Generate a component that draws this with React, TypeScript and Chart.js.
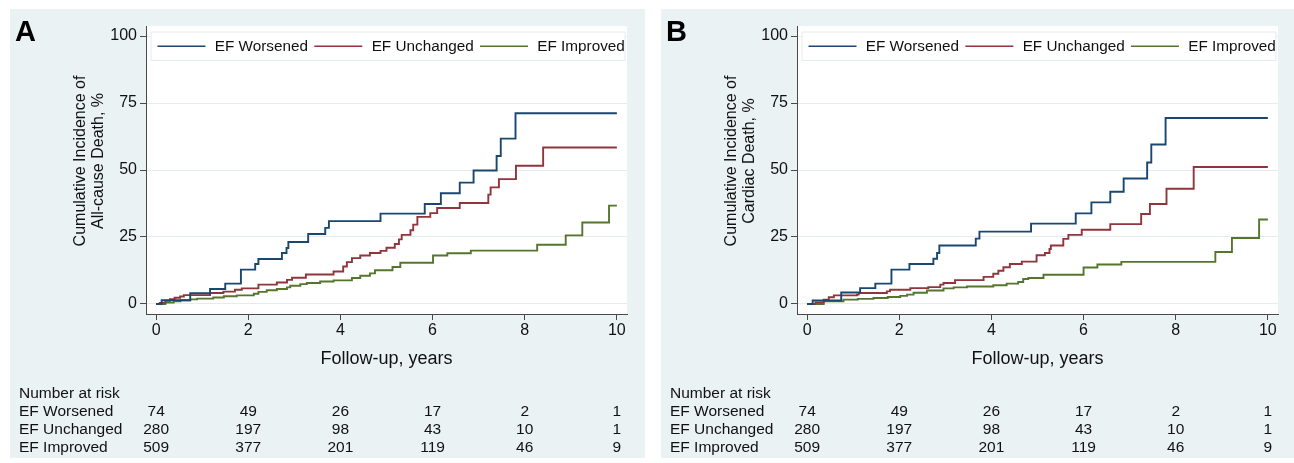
import React, { useEffect, useRef } from "react";
import { Chart, registerables } from "chart.js";

Chart.register(...registerables);

// ---------- data ----------
const seriesNames = ["EF Worsened", "EF Unchanged", "EF Improved"];
const xTicks = [0, 2, 4, 6, 8, 10];
const yTicks = [0, 25, 50, 75, 100];

const riskWorsened = [74, 49, 26, 17, 2, 1];
const riskUnchanged = [280, 197, 98, 43, 10, 1];
const riskImproved = [509, 377, 201, 119, 46, 9];

// Panel A: all-cause death
const aWorsenedYears = [0, 0.12, 0.74, 1.17, 1.5, 1.84, 2.15, 2.22, 2.73, 2.83, 2.87, 3.3, 3.67, 3.75, 4.87, 5.83, 6.18, 6.59, 6.89, 7.39, 7.48, 7.8, 10.0];
const aWorsenedPct = [0, 1.4, 4.0, 5.6, 7.6, 12.8, 14.9, 16.8, 19.0, 20.9, 23.1, 26.1, 28.4, 30.9, 33.7, 37.3, 41.3, 45.3, 49.8, 55.2, 61.7, 71.2, 71.2];

const aUnchangedYears = [0, 0.08, 0.2, 0.3, 0.4, 0.52, 0.6, 1.17, 1.46, 1.71, 1.86, 2.22, 2.62, 2.84, 2.95, 3.25, 3.85, 4.06, 4.14, 4.25, 4.43, 4.64, 4.87, 5.0, 5.18, 5.27, 5.33, 5.52, 5.58, 5.67, 5.95, 6.1, 6.59, 7.21, 7.26, 7.44, 7.81, 8.4, 10.0];
const aUnchangedPct = [0, 0.4, 1.2, 1.8, 2.3, 2.8, 3.3, 4.1, 4.6, 5.3, 5.8, 7.2, 8.0, 9.0, 9.8, 11.0, 12.1, 14.0, 15.6, 17.1, 18.1, 19.0, 19.8, 21.0, 22.4, 24.1, 25.8, 27.5, 29.6, 32.5, 33.9, 35.8, 37.7, 40.8, 43.5, 46.6, 51.6, 58.4, 58.4];

const aImprovedYears = [0, 0.2, 0.38, 0.53, 0.74, 0.89, 1.24, 1.47, 1.75, 2.12, 2.22, 2.4, 2.62, 2.84, 2.91, 3.13, 3.27, 3.56, 3.85, 4.25, 4.43, 4.64, 4.75, 5.13, 5.3, 6.01, 6.32, 6.83, 8.27, 8.89, 9.25, 9.83, 10.0];
const aImprovedPct = [0, 0.5, 1.0, 1.4, 1.7, 2.0, 2.4, 2.9, 3.2, 3.8, 4.5, 5.1, 5.6, 6.2, 6.8, 7.4, 7.8, 8.4, 8.8, 9.7, 10.5, 11.4, 12.6, 13.8, 15.4, 18.1, 18.9, 19.9, 22.1, 25.6, 30.4, 36.7, 36.7];

// Panel B: cardiac death
const bWorsenedYears = [0, 0.12, 0.74, 1.15, 1.48, 1.83, 2.22, 2.74, 2.82, 2.87, 3.66, 3.74, 4.86, 5.83, 6.17, 6.58, 6.87, 7.38, 7.47, 7.78, 10.0];
const bWorsenedPct = [0, 1.3, 4.3, 5.9, 7.6, 12.8, 14.9, 16.9, 19.0, 21.8, 24.4, 27.0, 30.0, 33.8, 37.9, 41.9, 46.8, 52.8, 59.5, 69.4, 69.4];

const bUnchangedYears = [0, 0.18, 0.36, 0.47, 0.58, 1.08, 1.12, 1.73, 1.8, 2.24, 2.63, 2.89, 2.96, 3.21, 3.83, 4.04, 4.15, 4.26, 4.4, 4.66, 4.98, 5.16, 5.26, 5.29, 5.56, 5.67, 5.96, 6.58, 7.25, 7.44, 7.8, 8.39, 10.0];
const bUnchangedPct = [0, 0.6, 1.6, 2.5, 3.2, 3.5, 4.1, 4.7, 5.3, 5.9, 6.3, 7.2, 7.8, 8.9, 10.1, 11.3, 12.4, 13.7, 14.9, 15.8, 18.2, 19.0, 20.5, 21.8, 24.3, 25.8, 27.7, 29.8, 33.6, 37.3, 43.0, 51.1, 51.1];

const bImprovedYears = [0, 0.36, 0.79, 1.1, 1.44, 1.75, 2.02, 2.17, 2.31, 2.6, 2.96, 3.18, 3.47, 4.04, 4.33, 4.58, 4.69, 4.8, 5.13, 6.0, 6.3, 6.82, 8.86, 9.22, 9.81, 10.0];
const bImprovedPct = [0, 1.0, 1.6, 1.9, 2.2, 2.6, 3.0, 3.5, 4.2, 5.0, 5.8, 6.2, 6.5, 7.0, 7.6, 8.2, 9.3, 9.7, 10.9, 13.6, 14.7, 15.7, 19.4, 24.6, 31.5, 31.5];

// ---------- styles ----------
const COLORS = ["#1a476f", "#90353b", "#55752f"];
const FONT = '"Liberation Sans", Arial, Helvetica, sans-serif';
const BG = "#eaf2f3";
const GRID = "#e4ecef";
const AXIS = "#4a4a4a";
const TEXT = "#111111";
const PANEL_W = 635;
const PANEL_H = 449;

type Series = { years: number[]; pct: number[] };

function makeDecor(letter: string, yTitle: string[], risk: number[][]) {
  return {
    id: "stataDecor",
    beforeDraw(chart: any) {
      const { ctx, chartArea: a } = chart;
      ctx.save();
      ctx.fillStyle = "#ffffff";
      ctx.fillRect(a.left, a.top, a.right - a.left, a.bottom - a.top);
      ctx.restore();
    },
    afterDraw(chart: any) {
      const { ctx, chartArea: a } = chart;
      const xs = chart.scales.x;
      ctx.save();

      // panel letter
      ctx.fillStyle = "#000";
      ctx.font = `bold 29px ${FONT}`;
      ctx.textAlign = "left";
      ctx.textBaseline = "alphabetic";
      ctx.fillText(letter, 5, 32);

      // y-axis title (two lines, rotated)
      ctx.font = `16px ${FONT}`;
      ctx.fillStyle = TEXT;
      ctx.textAlign = "center";
      ctx.textBaseline = "middle";
      yTitle.forEach((line, i) => {
        ctx.save();
        ctx.translate(71 + i * 18, 152);
        ctx.rotate(-Math.PI / 2);
        ctx.fillText(line, 0, 0);
        ctx.restore();
      });

      // legend box inside plot region
      const lx = a.left + 4.5;
      const ly = a.top + 5.5;
      const lw = a.right - a.left - 6;
      const lh = 29.5;
      ctx.fillStyle = "#ffffff";
      ctx.fillRect(lx, ly, lw, lh);
      ctx.strokeStyle = "#e3ebee";
      ctx.lineWidth = 1;
      ctx.strokeRect(lx + 0.5, ly + 0.5, lw - 1, lh - 1);
      const cy = ly + lh / 2;
      let cx = lx + 7;
      ctx.font = `15.3px ${FONT}`;
      ctx.textAlign = "left";
      ctx.textBaseline = "middle";
      seriesNames.forEach((name, i) => {
        ctx.strokeStyle = COLORS[i];
        ctx.lineWidth = 1.6;
        ctx.beginPath();
        ctx.moveTo(cx, cy);
        ctx.lineTo(cx + 48, cy);
        ctx.stroke();
        cx += 57.3;
        ctx.fillStyle = TEXT;
        ctx.fillText(name, cx, cy + 0.5);
        cx += ctx.measureText(name).width + 6.3;
      });

      // number at risk table
      ctx.font = `15.5px ${FONT}`;
      ctx.fillStyle = TEXT;
      ctx.textAlign = "left";
      ctx.fillText("Number at risk", 9, 385);
      const rowY = [403, 421, 439];
      seriesNames.forEach((name, r) => {
        ctx.textAlign = "left";
        ctx.fillText(name, 9, rowY[r]);
        ctx.textAlign = "center";
        risk[r].forEach((n, c) => {
          ctx.fillText(String(n), xs.getPixelForValue(xTicks[c]), rowY[r]);
        });
      });
      ctx.restore();
    },
  };
}

function Panel(props: { left: number; width: number; letter: string; yTitle: string[]; series: Series[] }) {
  const { left, width, letter, yTitle, series } = props;
  const ref = useRef<HTMLCanvasElement | null>(null);

  useEffect(() => {
    if (!ref.current) return;
    const chart = new Chart(ref.current, {
      type: "line",
      data: {
        datasets: series.map((s, i) => ({
          label: seriesNames[i],
          data: s.years.map((t, j) => ({ x: t, y: s.pct[j] })),
          borderColor: COLORS[i],
          backgroundColor: COLORS[i],
          borderWidth: 1.9,
          pointRadius: 0,
          stepped: true,
          fill: false,
          tension: 0,
        })),
      },
      options: {
        animation: false,
        responsive: false,
        maintainAspectRatio: false,
        events: [],
        layout: { padding: { left: 0, top: 17, right: 18, bottom: 88 } },
        plugins: { legend: { display: false }, tooltip: { enabled: false }, title: { display: false } },
        scales: {
          x: {
            type: "linear",
            min: -0.22,
            max: 10.22,
            afterBuildTicks: (s: any) => {
              s.ticks = xTicks.map((v) => ({ value: v }));
            },
            afterFit: (s: any) => {
              s.height = 56;
            },
            ticks: {
              font: { family: FONT, size: 16 },
              color: TEXT,
              padding: 1,
              maxRotation: 0,
              autoSkip: false,
              callback: (v: any) => String(v),
            },
            grid: { drawOnChartArea: false, drawTicks: true, tickLength: 6, tickColor: AXIS, tickWidth: 1 },
            border: { display: true, color: AXIS, width: 1 },
            title: {
              display: true,
              text: "Follow-up, years",
              font: { family: FONT, size: 18 },
              color: TEXT,
              padding: { top: 0, bottom: 0 },
            },
          },
          y: {
            type: "linear",
            min: -3.75,
            max: 103.75,
            afterBuildTicks: (s: any) => {
              s.ticks = yTicks.map((v) => ({ value: v }));
            },
            afterFit: (s: any) => {
              s.width = 136;
            },
            ticks: {
              font: { family: FONT, size: 16 },
              color: TEXT,
              padding: 3,
              autoSkip: false,
              callback: (v: any) => String(v),
            },
            grid: { color: GRID, lineWidth: 1, drawTicks: true, tickLength: 6, tickColor: AXIS, tickWidth: 1 },
            border: { display: true, color: AXIS, width: 1 },
          },
        },
      },
      plugins: [makeDecor(letter, yTitle, [riskWorsened, riskUnchanged, riskImproved])],
    } as any);
    return () => chart.destroy();
  }, []);

  return (
    <div style={{ position: "absolute", left, top: 9, width, height: PANEL_H, background: BG, overflow: "hidden" }}>
      <canvas
        ref={ref}
        width={PANEL_W}
        height={PANEL_H}
        style={{ display: "block", width: PANEL_W, height: PANEL_H }}
      />
    </div>
  );
}

export default function App() {
  const seriesA: Series[] = [
    { years: aWorsenedYears, pct: aWorsenedPct },
    { years: aUnchangedYears, pct: aUnchangedPct },
    { years: aImprovedYears, pct: aImprovedPct },
  ];
  const seriesB: Series[] = [
    { years: bWorsenedYears, pct: bWorsenedPct },
    { years: bUnchangedYears, pct: bUnchangedPct },
    { years: bImprovedYears, pct: bImprovedPct },
  ];
  return (
    <div
      style={{
        position: "absolute",
        left: 0,
        top: 0,
        width: 1294,
        height: 463,
        background: "#ffffff",
        overflow: "hidden",
      }}
    >
      <Panel left={10} width={635} letter="A" yTitle={["Cumulative Incidence of", "All-cause Death, %"]} series={seriesA} />
      <Panel left={661} width={633} letter="B" yTitle={["Cumulative Incidence of", "Cardiac Death, %"]} series={seriesB} />
    </div>
  );
}
